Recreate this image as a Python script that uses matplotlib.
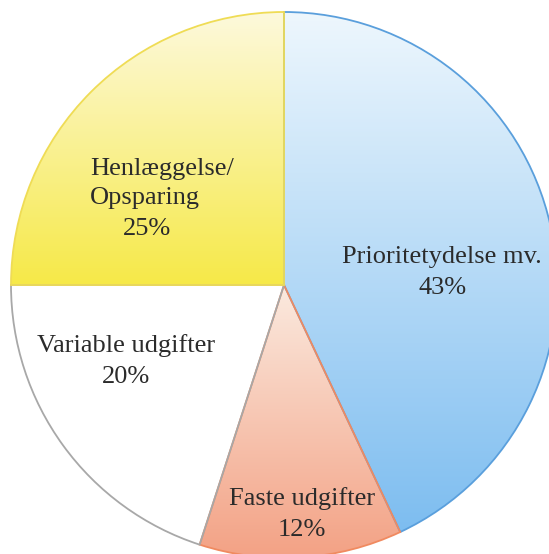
import numpy as np
import matplotlib
matplotlib.use("Agg")
import matplotlib.pyplot as plt
from matplotlib.colors import LinearSegmentedColormap

# Data
labels = ["Prioritetydelse mv.", "Faste udgifter", "Variable udgifter", "Henlæggelse/\nOpsparing"]
shares = [43, 12, 20, 25]

# gradient colours per slice (bottom, top) and outline colour
grad_bottom = ["#7dbdf0", "#f3a184", "#ffffff", "#f6e948"]
grad_top = ["#eef7fd", "#fbeadf", "#ffffff", "#fdf9dc"]
edge_cols = ["#5a9fdc", "#f08a60", "#a8a8a8", "#efdc55"]

# percentage-line placement: (radius fraction, angle deg); label x shift in px
pct_pos = [(0.579, 0.0), (0.889, -85.7), (0.664, 209.4), (0.546, 156.7)]
label_dx = [0, 0, 0, 15]

W, H = 549, 554
cx, cy, R = 284, 285, 273  # pie centre / radius in pixels
px = 1 / R                 # one pixel in data units
line_gap = 30.5 * px

fig = plt.figure(figsize=(W / 100, H / 100), dpi=100)
ax = fig.add_axes([0, 0, 1, 1])

wedges, _ = ax.pie(shares, startangle=90, counterclock=False, radius=1,
                   wedgeprops=dict(linewidth=1.3))

grad = np.linspace(0, 1, 256).reshape(-1, 1)
for w, lo, hi, ec in zip(wedges, grad_bottom, grad_top, edge_cols):
    w.set_facecolor("none")
    w.set_edgecolor(ec)
    w.set_zorder(2)
    ys = w.get_path().vertices[:, 1]
    cmap = LinearSegmentedColormap.from_list("g", [lo, hi])
    im = ax.imshow(grad, cmap=cmap, origin="lower", aspect="auto",
                   extent=[-1, 1, ys.min(), ys.max()], zorder=1)
    im.set_clip_path(w)

font = dict(family="Liberation Serif", size=19, color="#2b2b2b")
for lab, s, (r, a), dx in zip(labels, shares, pct_pos, label_dx):
    x = r * np.cos(np.radians(a))
    y = r * np.sin(np.radians(a))
    base = y - 8.7 * px
    ax.text(x, base, f"{s}%", ha="center", va="baseline", **font)
    # va="baseline" anchors the last line of a multi-line text here
    ax.text(x + dx * px, base + line_gap, lab, ha="center", va="baseline",
            multialignment="left", linespacing=1.43, **font)

ax.set_aspect("auto")
ax.set_xlim(-cx / R, (W - cx) / R)
ax.set_ylim(-(H - cy) / R, cy / R)
ax.axis("off")

fig.savefig("out.png", dpi=100, facecolor="white")
